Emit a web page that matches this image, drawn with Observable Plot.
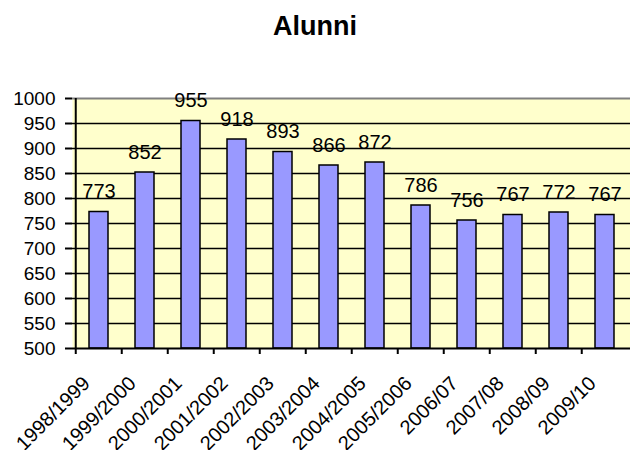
<!DOCTYPE html>
<html>
<head>
<meta charset="utf-8">
<script src="https://cdn.jsdelivr.net/npm/d3@7"></script>
<script src="https://cdn.jsdelivr.net/npm/@observablehq/plot@0.6"></script>
<style>
  body { margin: 0; background: #fff; }
  #title { height: 49px; padding-top: 11px; line-height: 27px; text-align: center;
           font: bold 27px "Liberation Sans", Arial, sans-serif; width: 630px; }
</style>
</head>
<body>
<div id="title">Alunni</div>
<div id="chart"></div>
<script>
const categories = ["1998/1999","1999/2000","2000/2001","2001/2002","2002/2003","2003/2004","2004/2005","2005/2006","2006/07","2007/08","2008/09","2009/10"];
const values = [773, 852, 955, 918, 893, 866, 872, 786, 756, 767, 772, 767];
const yTicks = [500, 550, 600, 650, 700, 750, 800, 850, 900, 950, 1000];

const data = categories.map((c, i) => ({cat: c, value: values[i]}));
const font = '"Liberation Sans", Arial, sans-serif';
const W = 630, ML = 72, MR = 0, H = 390, MT = 38, MB = 102;
const step = (W - ML - MR) / categories.length;
const plotH = H - MT - MB;
const plotW = W - ML - MR;

const chart = Plot.plot({
  width: W,
  height: H,
  marginTop: MT,
  marginBottom: MB,
  marginLeft: ML,
  marginRight: MR,
  style: {fontFamily: font, background: "transparent", overflow: "visible"},
  x: {domain: categories, paddingInner: 0.59, paddingOuter: 0.295, axis: null},
  y: {domain: [500, 1000], axis: null},
  marks: [
    Plot.frame({fill: "#FFFFCC", stroke: null}),
    Plot.ruleY(yTicks.filter(d => d > 500 && d < 1000), {y: d => d, stroke: "black", strokeWidth: 1.5}),
    Plot.ruleY([1000], {stroke: "#808080", strokeWidth: 2}),
    Plot.barY(data, {x: "cat", y1: 500, y2: "value", fill: "#9999FF", stroke: "black", strokeWidth: 1.5}),
    Plot.ruleY([500], {stroke: "black", strokeWidth: 2}),
    Plot.ruleX([0], {x: () => categories[0], dx: -step / 2, stroke: "black", strokeWidth: 2}),
    // y ticks
    Plot.ruleY(yTicks, {y: d => d, insetLeft: -7, insetRight: plotW, stroke: "black", strokeWidth: 2}),
    Plot.text(yTicks, {y: d => d, text: d => String(d), frameAnchor: "left", dx: -17, textAnchor: "end", lineAnchor: "middle", fontSize: 19, fill: "black"}),
    // x ticks at band boundaries
    Plot.ruleX(categories, {x: d => d, dx: -step / 2, insetTop: plotH, insetBottom: -6, stroke: "black", strokeWidth: 2}),
    // x labels
    Plot.text(categories, {x: d => d, text: d => d, frameAnchor: "bottom", rotate: -45, textAnchor: "end", lineAnchor: "top", dx: -18, dy: 26, fontSize: 20, fill: "black", ariaLabel: "xlabels"}),
    // value labels
    Plot.text(data, {x: "cat", y: "value", text: d => String(d.value), lineAnchor: "bottom", dy: -14, fontSize: 20, fill: "black"})
  ]
});
d3.select(chart).selectAll('g[aria-label="xlabels"]').attr("letter-spacing", "1.5px");
document.getElementById("chart").appendChild(chart);
</script>
</body>
</html>
